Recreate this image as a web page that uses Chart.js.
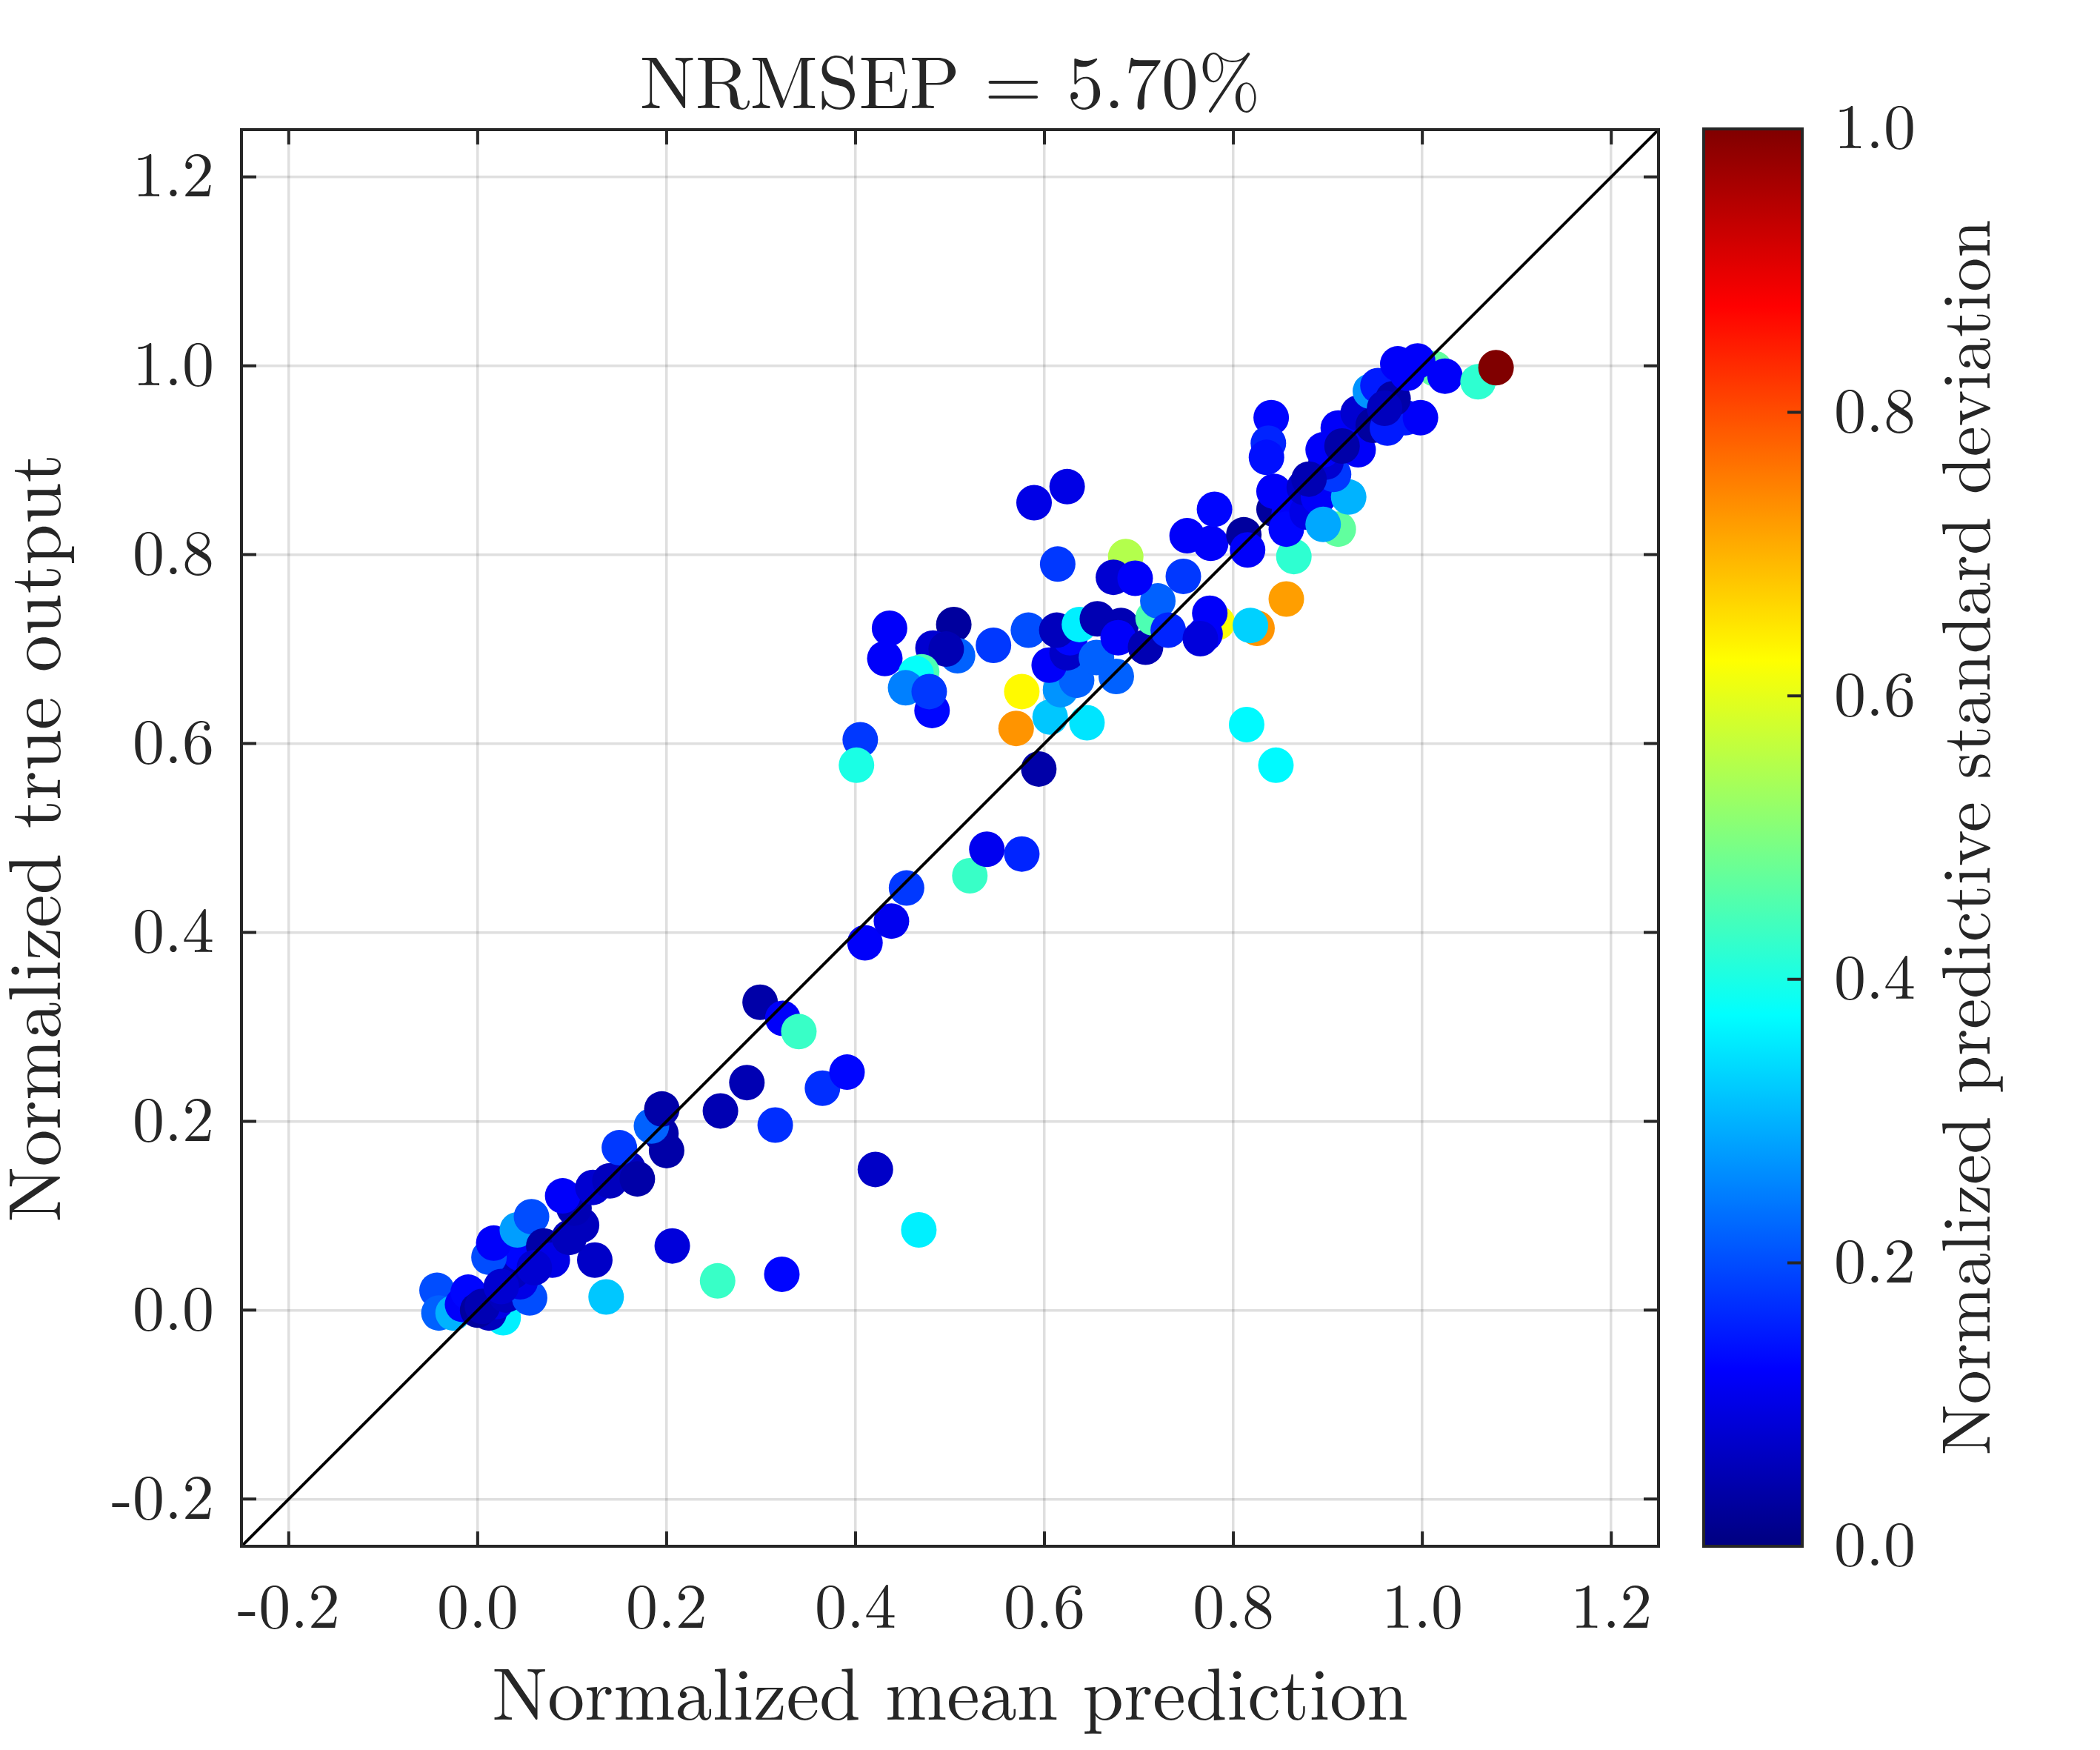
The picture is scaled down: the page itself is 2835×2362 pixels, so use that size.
<!DOCTYPE html>
<html>
<head>
<meta charset="utf-8">
<title>NRMSEP scatter</title>
<script src="https://cdn.jsdelivr.net/npm/chart.js@4.4.0/dist/chart.umd.min.js"></script>
<style>
  html, body { margin: 0; padding: 0; background: #fff; }
  #wrap { position: relative; width: 2835px; height: 2362px; }
  #mainChart { position: absolute; left: 0; top: 0; }
  #barChart { position: absolute; left: 2290px; top: 0; }
  #fontWarm { position: absolute; left: -9999px; top: 0; font-family: 'Latin Modern Roman'; font-size: 90px; }
</style>
</head>
<body>
<div id="fontWarm">Normalized 0.2</div>
<div id="wrap">
  <canvas id="mainChart" width="2290" height="2362"></canvas>
  <canvas id="barChart" width="545" height="2362"></canvas>
</div>
<script>
// axis limits and ticks
const axisRange = [-0.25, 1.25];
const tickValues = [-0.2, 0.0, 0.2, 0.4, 0.6, 0.8, 1.0, 1.2];
const cbTicks = [0.0, 0.2, 0.4, 0.6, 0.8, 1.0];

// normalized mean prediction (x)
const predX = [
  -0.043, -0.041, -0.026, -0.016, -0.010, 0.027, 0.012, 0.020, 0.000, 0.005,
  0.030, 0.055, 0.045, 0.037, 0.045, 0.012, 0.017, 0.042, 0.057, 0.070,
  0.079, 0.124, 0.097, 0.110, 0.102, 0.090, 0.122, 0.140, 0.159, 0.169,
  0.150, 0.200, 0.194, 0.184, 0.195, 0.025, 0.060,
  0.136, 0.206, 0.254, 0.322, 0.467, 0.421, 0.257, 0.285, 0.315, 0.365,
  0.391, 0.299, 0.323, 0.340,
  0.410, 0.438, 0.454, 0.521, 0.539, 0.576, 0.594, 0.405, 0.401, 0.436,
  0.431, 0.504, 0.508, 0.482, 0.496, 0.470, 0.464, 0.453, 0.481, 0.478,
  0.546, 0.583, 0.614, 0.576, 0.570, 0.606, 0.645, 0.617, 0.634, 0.605,
  0.624, 0.627, 0.613, 0.637, 0.656, 0.681, 0.655, 0.676, 0.678, 0.707,
  0.715, 0.720, 0.731, 0.686, 0.673, 0.696, 0.747, 0.751, 0.776, 0.811,
  0.815, 0.780, 0.589, 0.624, 0.783, 0.775, 0.770, 0.765, 0.825, 0.818,
  0.856, 0.814, 0.845, 0.864,
  0.843, 0.843, 0.859, 0.856, 0.878, 0.875, 0.890, 0.911, 0.895, 0.922,
  0.906, 0.898, 0.895, 0.932, 0.927, 0.911, 0.932, 0.945, 0.953, 0.948,
  0.963, 0.982, 0.998, 0.969, 1.013, 0.974, 0.995, 0.984, 1.024, 1.059,
  1.078, 0.840, 0.837, 0.835, 0.880, 0.915, 0.960
];

// normalized true output (y)
const trueY = [
  0.021, -0.003, -0.003, 0.006, 0.019, -0.008, -0.003, 0.009, 0.000, 0.004,
  0.016, 0.013, 0.030, 0.041, 0.060, 0.056, 0.071, 0.085, 0.099, 0.068,
  0.053, 0.053, 0.077, 0.090, 0.108, 0.121, 0.130, 0.137, 0.150, 0.139,
  0.172, 0.169, 0.187, 0.195, 0.213, 0.025, 0.045,
  0.014, 0.068, 0.031, 0.038, 0.085, 0.149, 0.211, 0.241, 0.196, 0.235,
  0.252, 0.326, 0.309, 0.295,
  0.389, 0.412, 0.447, 0.460, 0.488, 0.483, 0.573, 0.604, 0.577, 0.722,
  0.690, 0.726, 0.693, 0.701, 0.700, 0.676, 0.674, 0.659, 0.635, 0.655,
  0.704, 0.720, 0.790, 0.655, 0.616, 0.628, 0.622, 0.657, 0.667, 0.683,
  0.696, 0.712, 0.720, 0.726, 0.732, 0.725, 0.691, 0.671, 0.712, 0.702,
  0.733, 0.751, 0.720, 0.798, 0.776, 0.775, 0.777, 0.820, 0.812, 0.821,
  0.805, 0.848, 0.855, 0.872, 0.728, 0.738, 0.716, 0.711, 0.722, 0.725,
  0.753, 0.620, 0.577, 0.798,
  0.848, 0.867, 0.843, 0.827, 0.845, 0.871, 0.861, 0.827, 0.832, 0.861,
  0.885, 0.898, 0.911, 0.911, 0.918, 0.934, 0.950, 0.973, 0.979, 0.937,
  0.934, 0.945, 0.945, 0.965, 0.997, 1.002, 1.005, 0.992, 0.989, 0.983,
  0.998, 0.945, 0.918, 0.903, 0.880, 0.915, 0.955
];

// normalized predictive standard deviation (colour)
const predStd = [
  0.20, 0.22, 0.30, 0.12, 0.13, 0.36, 0.06, 0.10, 0.03, 0.05,
  0.06, 0.20, 0.10, 0.06, 0.13, 0.20, 0.12, 0.28, 0.20, 0.04,
  0.10, 0.07, 0.06, 0.06, 0.05, 0.12, 0.08, 0.06, 0.06, 0.04,
  0.18, 0.04, 0.04, 0.22, 0.04, 0.08, 0.08,
  0.32, 0.09, 0.43, 0.13, 0.36, 0.07, 0.05, 0.05, 0.17, 0.17,
  0.13, 0.04, 0.12, 0.43,
  0.12, 0.11, 0.18, 0.43, 0.11, 0.16, 0.04, 0.18, 0.40, 0.12,
  0.12, 0.03, 0.22, 0.08, 0.05, 0.45, 0.38, 0.25, 0.13, 0.18,
  0.18, 0.20, 0.18, 0.63, 0.73, 0.32, 0.35, 0.27, 0.22, 0.12,
  0.07, 0.13, 0.06, 0.36, 0.05, 0.05, 0.22, 0.22, 0.12, 0.05,
  0.45, 0.22, 0.16, 0.55, 0.08, 0.12, 0.18, 0.12, 0.12, 0.03,
  0.12, 0.13, 0.10, 0.10, 0.62, 0.12, 0.12, 0.09, 0.73, 0.33,
  0.72, 0.37, 0.37, 0.42,
  0.03, 0.12, 0.12, 0.13, 0.10, 0.07, 0.12, 0.47, 0.29, 0.30,
  0.18, 0.08, 0.12, 0.12, 0.12, 0.12, 0.08, 0.27, 0.15, 0.03,
  0.15, 0.15, 0.12, 0.04, 0.47, 0.12, 0.12, 0.12, 0.12, 0.42,
  1.00, 0.13, 0.16, 0.14, 0.05, 0.04, 0.06
];

// y = x reference line end points
const refLine = [-0.25, 1.25];

const ink = '#262626';
const serif = "'Latin Modern Roman', 'Liberation Serif', serif";
Chart.defaults.font.family = serif;
Chart.defaults.color = ink;

// matlab jet colormap
function jet(v) {
  const c = t => Math.round(255 * Math.max(0, Math.min(1, t)));
  const r = c(1.5 - Math.abs(4 * v - 3));
  const g = c(1.5 - Math.abs(4 * v - 2));
  const b = c(1.5 - Math.abs(4 * v - 1));
  return 'rgb(' + r + ',' + g + ',' + b + ')';
}

// box round the axes and short inward tick marks
const boxPlugin = {
  id: 'box',
  afterDatasetsDraw(chart, args, opts) {
    const {ctx, chartArea: a, scales} = chart;
    const len = 20;
    ctx.save();
    ctx.strokeStyle = ink;
    ctx.lineWidth = 4;
    ctx.strokeRect(a.left, a.top, a.right - a.left, a.bottom - a.top);
    ctx.beginPath();
    if (opts.square) {
      tickValues.forEach(v => {
        const px = scales.x.getPixelForValue(v);
        ctx.moveTo(px, a.bottom); ctx.lineTo(px, a.bottom - len);
        ctx.moveTo(px, a.top); ctx.lineTo(px, a.top + len);
        const py = scales.y.getPixelForValue(v);
        ctx.moveTo(a.left, py); ctx.lineTo(a.left + len, py);
        ctx.moveTo(a.right, py); ctx.lineTo(a.right - len, py);
      });
    } else {
      cbTicks.forEach(v => {
        const py = scales.y.getPixelForValue(v);
        ctx.moveTo(a.right, py); ctx.lineTo(a.right - len, py);
      });
    }
    ctx.stroke();
    ctx.restore();
  }
};

// colorbar label, reads bottom to top
const cbLabelPlugin = {
  id: 'cbLabel',
  afterDraw(chart) {
    const {ctx, chartArea: a} = chart;
    ctx.save();
    ctx.translate(396, (a.top + a.bottom) / 2);
    ctx.rotate(-Math.PI / 2);
    ctx.font = '92px ' + serif;
    ctx.fillStyle = ink;
    ctx.textAlign = 'center';
    ctx.textBaseline = 'alphabetic';
    ctx.fillText('Normalized predictive standard deviation', 0, 0);
    ctx.restore();
  }
};

const fmt = v => Number(v).toFixed(1);
const gridStyle = { color: 'rgba(38,38,38,0.15)', lineWidth: 3.5, drawTicks: false };

const mainChart = new Chart(document.getElementById('mainChart'), {
  data: {
    datasets: [
      {
        type: 'line',
        data: refLine.map(v => ({x: v, y: v})),
        borderColor: '#000',
        borderWidth: 4,
        pointRadius: 0,
        order: 0
      },
      {
        type: 'scatter',
        data: predX.map((x, i) => ({x: x, y: trueY[i]})),
        pointBackgroundColor: predStd.map(jet),
        pointBorderWidth: 0,
        pointRadius: 24,
        pointHoverRadius: 24,
        order: 1
      }
    ]
  },
  options: {
    responsive: false,
    devicePixelRatio: 1,
    animation: false,
    layout: { padding: { left: 0, right: 51, top: 0, bottom: 0 } },
    plugins: {
      legend: { display: false },
      tooltip: { enabled: false },
      title: {
        display: true,
        fullSize: false,
        text: 'NRMSEP = 5.70%',
        color: ink,
        font: { size: 100, weight: 'normal', lineHeight: 1.2 },
        padding: { top: 55, bottom: 0 }
      },
      box: { square: true }
    },
    scales: {
      x: {
        type: 'linear',
        min: axisRange[0],
        max: axisRange[1],
        afterBuildTicks: s => { s.ticks = tickValues.map(v => ({value: v})); },
        afterFit: s => { s.height = 275; },
        grid: gridStyle,
        border: { display: false },
        ticks: { callback: fmt, font: { size: 86, lineHeight: 1 }, padding: 41, maxRotation: 0 },
        title: {
          display: true,
          text: 'Normalized mean prediction',
          font: { size: 100, lineHeight: 1.2 },
          padding: { top: 0, bottom: 12 }
        }
      },
      y: {
        type: 'linear',
        min: axisRange[0],
        max: axisRange[1],
        afterBuildTicks: s => { s.ticks = tickValues.map(v => ({value: v})); },
        afterFit: s => { s.width = 326; },
        grid: gridStyle,
        border: { display: false },
        ticks: { callback: fmt, font: { size: 86, lineHeight: 1 }, padding: 37 },
        title: {
          display: true,
          text: 'Normalized true output',
          font: { size: 100, lineHeight: 1 },
          padding: { top: 0, bottom: 0 }
        }
      }
    }
  },
  plugins: [boxPlugin]
});

// colorbar: one bar from 0 to 1 filled with the jet ramp
const jetStops = [0, 0.125, 0.375, 0.625, 0.875, 1];
const barChart = new Chart(document.getElementById('barChart'), {
  type: 'bar',
  data: {
    labels: [''],
    datasets: [{
      data: [cbTicks[cbTicks.length - 1]],
      barPercentage: 1,
      categoryPercentage: 1,
      borderWidth: 0,
      backgroundColor: ctx => {
        const a = ctx.chart.chartArea;
        if (!a) return jet(0.5);
        const g = ctx.chart.ctx.createLinearGradient(0, a.bottom, 0, a.top);
        jetStops.forEach(s => g.addColorStop(s, jet(s)));
        return g;
      }
    }]
  },
  options: {
    responsive: false,
    devicePixelRatio: 1,
    animation: false,
    layout: { padding: { left: 10, right: 0, top: 174, bottom: 275 } },
    plugins: {
      legend: { display: false },
      tooltip: { enabled: false },
      box: { square: false }
    },
    scales: {
      x: { display: false },
      y: {
        position: 'right',
        min: 0,
        max: 1,
        afterBuildTicks: s => { s.ticks = cbTicks.map(v => ({value: v})); },
        afterFit: s => { s.width = 402; },
        grid: { display: false },
        border: { display: false },
        ticks: { callback: fmt, font: { size: 86, lineHeight: 1 }, padding: 35 }
      }
    }
  },
  plugins: [boxPlugin, cbLabelPlugin]
});

// redraw once the font is ready
const redraw = () => { mainChart.update('none'); barChart.update('none'); };
document.fonts.load("100px 'Latin Modern Roman'").then(redraw, redraw);
document.fonts.ready.then(redraw);
</script>
</body>
</html>
